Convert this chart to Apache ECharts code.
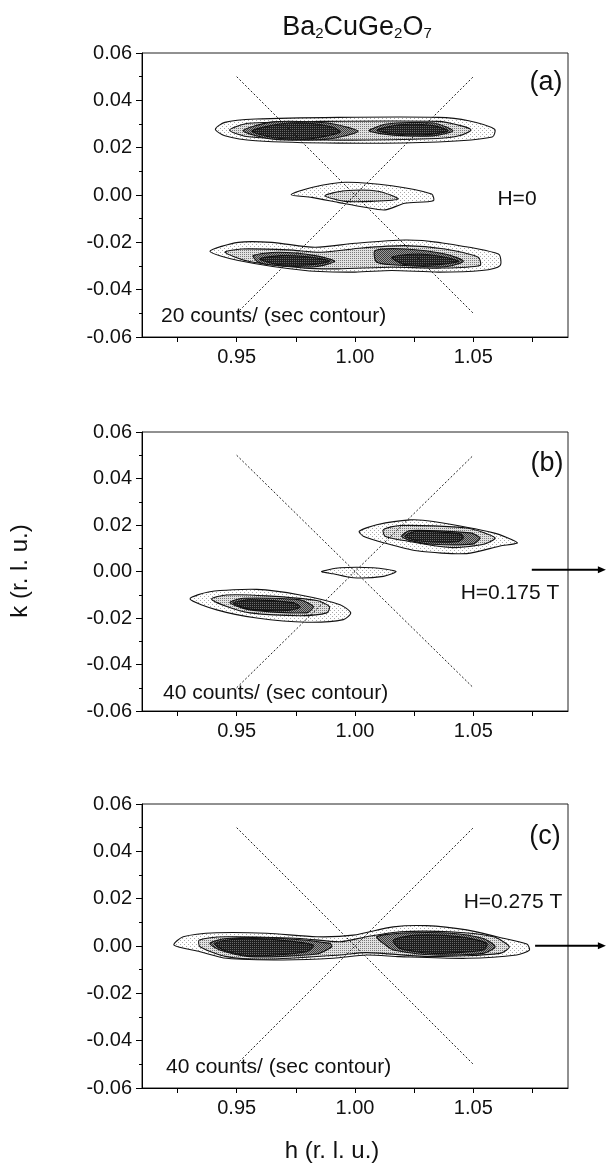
<!DOCTYPE html>
<html>
<head>
<meta charset="utf-8">
<script src="https://cdn.jsdelivr.net/npm/echarts@6/dist/echarts.min.js"></script>
<style>
html,body{margin:0;padding:0;background:#fff;}
#chart{width:608px;height:1169px;}
</style>
</head>
<body>
<div id="chart"></div>
<script>
// ---------- axis ticks / labels ----------
const xTickValues = [0.925, 0.95, 0.975, 1.0, 1.025, 1.05, 1.075];
const xLabelValues = [0.95, 1.0, 1.05];
const yRange = [-0.06, 0.06];
const yStep = 0.02;

// ---------- guide lines (dotted diagonals) ----------
const diagDown = [[0.95, 0.05], [1.05, -0.05]];
const diagUp = [[0.95, -0.05], [1.05, 0.05]];

// ---------- field arrows (panels b, c) ----------
const arrowB = [[1.0747, 0.0008], [1.106, 0.0008]];
const arrowC = [[1.0761, 0.0001], [1.106, 0.0001]];

// ---------- panel (a) H = 0, contours [h, k] ----------
const aUpper1 = [[0.941,0.0278],[0.945,0.0307],[0.958,0.0321],[0.993,0.0328],[1.035,0.0328],[1.048,0.0314],[1.059,0.0278],[1.058,0.0245],[1.035,0.0224],[0.993,0.0219],[0.958,0.0229],[0.945,0.0250]];
const aUpper2 = [[0.947,0.0274],[0.955,0.0303],[0.986,0.0311],[1.035,0.0311],[1.045,0.0292],[1.049,0.0274],[1.044,0.0250],[1.035,0.0239],[0.993,0.0232],[0.955,0.0246]];
const aUpperL3 = [[0.9527,0.0271],[0.9653,0.0309],[0.9882,0.0304],[1.0013,0.0269],[0.9882,0.0236],[0.9653,0.0236]];
const aUpperL4 = [[0.9565,0.0271],[0.9683,0.0300],[0.9797,0.0304],[0.9907,0.0286],[0.9937,0.0265],[0.9797,0.0236],[0.9653,0.0243]];
const aUpperR3 = [[1.0059,0.0271],[1.0135,0.0300],[1.033,0.0304],[1.0414,0.0271],[1.033,0.0250],[1.016,0.0253]];
const aUpperR4 = [[1.0093,0.0274],[1.019,0.0297],[1.033,0.0293],[1.0393,0.0271],[1.0304,0.0255],[1.016,0.0259]];
const aMid1 = [[0.973,0.0001],[0.9817,0.0032],[0.9958,0.0054],[1.0155,0.0039],[1.0324,0.0004],[1.0331,-0.0024],[1.0211,-0.0035],[1.0127,-0.0063],[1.0042,-0.0052],[0.9928,-0.0031],[0.9817,-0.0010]];
const aMid2 = [[0.9873,-0.0003],[0.9958,0.0018],[1.0098,0.0016],[1.0183,-0.0017],[1.0071,-0.0027],[0.9958,-0.0027]];
const aLower1 = [[0.9387,-0.0238],[0.9507,-0.0200],[0.9648,-0.0200],[0.9831,-0.0221],[1.0,-0.0204],[1.0211,-0.0190],[1.0352,-0.0200],[1.0606,-0.0249],[1.0613,-0.0298],[1.0535,-0.0319],[1.0352,-0.0326],[1.0155,-0.0319],[1.0,-0.0326],[0.9789,-0.0319],[0.9507,-0.0277]];
const aLower2 = [[0.9451,-0.0242],[0.9521,-0.0228],[0.9718,-0.0232],[0.9859,-0.0242],[1.0028,-0.0224],[1.0211,-0.0214],[1.038,-0.0228],[1.0521,-0.0263],[1.0528,-0.0298],[1.0352,-0.0309],[1.0155,-0.0305],[0.9929,-0.0312],[0.9789,-0.0309],[0.9549,-0.0280]];
const aLowerL3 = [[0.957,-0.0256],[0.9676,-0.0242],[0.9831,-0.0256],[0.9915,-0.0280],[0.9831,-0.0303],[0.9676,-0.0298],[0.9592,-0.0284]];
const aLowerL4 = [[0.9598,-0.0270],[0.969,-0.0256],[0.9817,-0.0263],[0.9894,-0.0280],[0.9817,-0.0294],[0.9676,-0.0294]];
const aLowerR3 = [[1.0085,-0.0235],[1.0211,-0.0228],[1.038,-0.0249],[1.0458,-0.0280],[1.038,-0.0303],[1.0211,-0.0298],[1.0092,-0.0284]];
const aLowerR4 = [[1.0155,-0.0263],[1.0268,-0.0249],[1.038,-0.0263],[1.0437,-0.0280],[1.0352,-0.0294],[1.0211,-0.0294]];

// ---------- panel (b) H = 0.175 T ----------
const bUpper1 = [[1.0018,0.0173],[1.0092,0.0201],[1.0232,0.0222],[1.0331,0.0215],[1.0585,0.0166],[1.0686,0.0124],[1.0613,0.0110],[1.0472,0.0077],[1.0261,0.0089],[1.012,0.0124],[1.0035,0.0152]];
const bUpper2 = [[1.012,0.0180],[1.019,0.0198],[1.0472,0.0187],[1.0592,0.0145],[1.0543,0.0117],[1.0402,0.0103],[1.0219,0.0131],[1.0127,0.0152]];
const bUpper3 = [[1.0197,0.0152],[1.0232,0.0176],[1.0486,0.0166],[1.0528,0.0145],[1.05,0.0119],[1.0331,0.0117],[1.0232,0.0134]];
const bUpper4 = [[1.0211,0.0152],[1.0261,0.0173],[1.0444,0.0162],[1.0458,0.0145],[1.043,0.0128],[1.0275,0.0131]];
const bMid1 = [[0.9859,0],[0.9937,0.0016],[1.0077,0.0016],[1.0173,0],[1.012,-0.0021],[0.9993,-0.0027],[0.9908,-0.0010]];
const bLower1 = [[0.9303,-0.0118],[0.9387,-0.0087],[0.9585,-0.0077],[0.9768,-0.0101],[0.9937,-0.0143],[0.9982,-0.0178],[0.9951,-0.0207],[0.9796,-0.0218],[0.9585,-0.0200],[0.9416,-0.0165]];
const bLower2 = [[0.9394,-0.0118],[0.9458,-0.0101],[0.9627,-0.0105],[0.9838,-0.0125],[0.9892,-0.0151],[0.9881,-0.0178],[0.9768,-0.0190],[0.9556,-0.0178],[0.9458,-0.0151]];
const bLower3 = [[0.9472,-0.0134],[0.9528,-0.0115],[0.9768,-0.0122],[0.9824,-0.0151],[0.9796,-0.0178],[0.9556,-0.0165]];
const bLower4 = [[0.9486,-0.0136],[0.9556,-0.0122],[0.9739,-0.0134],[0.9768,-0.0153],[0.9712,-0.0168],[0.9556,-0.0162]];

// ---------- panel (c) H = 0.275 T ----------
const cOuter1 = [[0.9235,0.0004],[0.9274,0.0039],[0.9415,0.0056],[0.9627,0.0054],[0.9838,0.0039],[0.9993,0.0046],[1.0162,0.0081],[1.0303,0.0086],[1.0472,0.0068],[1.0599,0.0039],[1.0726,0.0008],[1.0737,-0.0017],[1.0683,-0.0038],[1.0472,-0.0052],[1.019,-0.0045],[1.0049,-0.0038],[0.9908,-0.0052],[0.9697,-0.0059],[0.9458,-0.0052],[0.9345,-0.0024]];
const cOuter2 = [[0.9342,0.0025],[0.9458,0.0039],[0.9768,0.0032],[0.9937,0.0018],[1.0049,0.0039],[1.019,0.0060],[1.0402,0.0060],[1.0585,0.0039],[1.0652,-0.0003],[1.0613,-0.0031],[1.0331,-0.0045],[1.0049,-0.0028],[0.9937,-0.0038],[0.9627,-0.0056],[0.9458,-0.0045],[0.9345,-0.0003]];
const cLeft3 = [[0.9387,0.0011],[0.9458,0.0032],[0.9697,0.0032],[0.9894,0.0011],[0.9902,-0.0003],[0.9838,-0.0034],[0.9556,-0.0045],[0.9429,-0.0017]];
const cLeft4 = [[0.9408,0.0011],[0.9514,0.0032],[0.9683,0.0025],[0.9824,0.0004],[0.9796,-0.0024],[0.9556,-0.0042],[0.9444,-0.0017]];
const cRight3 = [[1.0092,0.0039],[1.019,0.0054],[1.0402,0.0054],[1.0542,0.0032],[1.0592,-0.0003],[1.0542,-0.0031],[1.0331,-0.0038],[1.0162,-0.0017],[1.012,0.0011]];
const cRight4 = [[1.0162,0.0025],[1.0261,0.0046],[1.0444,0.0039],[1.0557,0.0011],[1.0543,-0.0017],[1.0331,-0.0031],[1.019,-0.0010]];

// [points, contour level 1..4] per panel
const panelContours = [
  [[aUpper1,1],[aUpper2,2],[aUpperL3,3],[aUpperL4,4],[aUpperR3,3],[aUpperR4,4],
   [aMid1,1],[aMid2,2],
   [aLower1,1],[aLower2,2],[aLowerL3,3],[aLowerL4,4],[aLowerR3,3],[aLowerR4,4]],
  [[bUpper1,1],[bUpper2,2],[bUpper3,3],[bUpper4,4],[bMid1,1],
   [bLower1,1],[bLower2,2],[bLower3,3],[bLower4,4]],
  [[cOuter1,1],[cOuter2,2],[cLeft3,3],[cLeft4,4],[cRight3,3],[cRight4,4]]
];
const panelArrows = [null, arrowB, arrowC];

// ---------- styling ----------
const FF = '"Liberation Sans", Arial, Helvetica, sans-serif';

// stipple-like fill patterns for the contour levels
function stipple(size, bg, dot, cells) {
  const cv = document.createElement('canvas');
  cv.width = size; cv.height = size;
  const ctx = cv.getContext('2d');
  ctx.fillStyle = bg; ctx.fillRect(0, 0, size, size);
  ctx.fillStyle = dot;
  cells.forEach(function(c){ ctx.fillRect(c[0], c[1], 1, 1); });
  return {image: cv, repeat: 'repeat'};
}
const levelFill = {
  1: stipple(4, '#ffffff', '#a8a8a8', [[0,0],[2,2]]),
  2: stipple(2, '#e2e2e2', '#7a7a7a', [[0,0]]),
  3: stipple(2, '#9a9a9a', '#3a3a3a', [[0,0],[1,1]]),
  4: stipple(2, '#1e1e1e', '#6a6a6a', [[0,0]])
};
const grids = [
  {left:142, top:53, width:426, height:284},
  {left:142, top:432, width:426, height:279},
  {left:142, top:804, width:426, height:284}
];

function polySeries(pts, level, gi) {
  return {
    type:'custom', xAxisIndex:gi, yAxisIndex:gi, data:pts, clip:false, silent:true,
    encode:{x:0, y:1},
    renderItem:function(params, api){
      if (params.dataIndexInside !== 0) return null;
      const n = params.dataInsideLength, points = [];
      for (let i = 0; i < n; i++) points.push(api.coord([api.value(0,i), api.value(1,i)]));
      return {type:'polygon', shape:{points:points, smooth:0.25},
              style:{fill:levelFill[level], stroke:'#111', lineWidth:1.1}};
    }
  };
}
function diagSeries(pts, gi) {
  return {type:'line', xAxisIndex:gi, yAxisIndex:gi, data:pts, symbol:'none', silent:true,
          lineStyle:{color:'#222', width:1, type:[2,2]}, z:5};
}
function arrowSeries(pts, gi) {
  return {
    type:'custom', xAxisIndex:gi, yAxisIndex:gi, data:pts, clip:false, silent:true, z:6,
    encode:{x:0, y:1},
    renderItem:function(params, api){
      if (params.dataIndexInside !== 0) return null;
      const p0 = api.coord([api.value(0,0), api.value(1,0)]);
      const p1 = api.coord([api.value(0,1), api.value(1,1)]);
      return {type:'group', children:[
        {type:'line', shape:{x1:p0[0], y1:p0[1], x2:p1[0]-6, y2:p1[1]}, style:{stroke:'#000', lineWidth:2}},
        {type:'polygon', shape:{points:[[p1[0],p1[1]],[p1[0]-8,p1[1]-3.5],[p1[0]-8,p1[1]+3.5]]}, style:{fill:'#000'}}
      ]};
    }
  };
}

const xAxes = [], yAxes = [], series = [];
grids.forEach(function(g, gi){
  xAxes.push({
    type:'value', gridIndex:gi, min:0.91, max:1.09,
    axisLine:{onZero:false, lineStyle:{color:'#000', width:1}},
    axisTick:{customValues:xTickValues, length:5, lineStyle:{color:'#000'}},
    axisLabel:{customValues:xLabelValues, formatter:function(v){return (+v).toFixed(2);},
               fontSize:20, fontFamily:FF, color:'#111', margin:10},
    splitLine:{show:false}
  });
  yAxes.push({
    type:'value', gridIndex:gi, min:yRange[0], max:yRange[1], interval:yStep,
    axisLine:{onZero:false, lineStyle:{color:'#000', width:1}},
    axisTick:{length:6, lineStyle:{color:'#000'}},
    minorTick:{show:true, splitNumber:2, length:3, lineStyle:{color:'#000'}},
    axisLabel:{formatter:function(v){return (Math.abs(v) < 1e-9 ? 0 : v).toFixed(2);},
               fontSize:20, fontFamily:FF, color:'#111', margin:10},
    splitLine:{show:false}
  });
  panelContours[gi].forEach(function(c){ series.push(polySeries(c[0], c[1], gi)); });
  series.push(diagSeries(diagDown, gi));
  series.push(diagSeries(diagUp, gi));
  if (panelArrows[gi]) series.push(arrowSeries(panelArrows[gi], gi));
});

function txt(text, x, y, size, align) {
  return {type:'text', x:x, y:y, silent:true, z:10,
          style:{text:text, fontSize:size, fontFamily:FF, fill:'#111',
                 align:align||'center', textAlign:align||'center',
                 verticalAlign:'middle', textVerticalAlign:'middle'}};
}

const graphic = [
  {type:'text', x:357, y:-5, silent:true, z:10,
   style:{text:'{m|Ba}{s|2}{m|CuGe}{s|2}{m|O}{s|7}', align:'center', textAlign:'center',
          verticalAlign:'top', textVerticalAlign:'top',
          rich:{m:{fontSize:27, fontFamily:FF, fill:'#111', lineHeight:46, verticalAlign:'bottom'},
                s:{fontSize:15, fontFamily:FF, fill:'#111', lineHeight:20, verticalAlign:'bottom'}}}},
  txt('(a)', 546, 83, 27), txt('H=0', 517, 199, 21), txt('20 counts/ (sec contour)', 161, 316, 21, 'left'),
  txt('(b)', 547, 464, 27), txt('H=0.175 T', 510, 593, 21), txt('40 counts/ (sec contour)', 163, 693, 21, 'left'),
  txt('(c)', 545, 837, 27), txt('H=0.275 T', 513, 902, 21), txt('40 counts/ (sec contour)', 166, 1067, 21, 'left'),
  txt('h (r. l. u.)', 332, 1151, 24),
  {type:'text', x:20, y:571, rotation:Math.PI/2, silent:true, z:10,
   style:{text:'k (r. l. u.)', fontSize:24, fontFamily:FF, fill:'#111',
          align:'center', textAlign:'center', verticalAlign:'middle', textVerticalAlign:'middle'}}
];

const chart = echarts.init(document.getElementById('chart'), null, {renderer:'canvas'});
chart.setOption({
  animation:false,
  backgroundColor:'#fff',
  grid:grids.map(function(g){ return Object.assign({show:true, borderColor:'#222', borderWidth:1, backgroundColor:'transparent'}, g); }),
  xAxis:xAxes,
  yAxis:yAxes,
  series:series,
  graphic:graphic
});
</script>
</body>
</html>
